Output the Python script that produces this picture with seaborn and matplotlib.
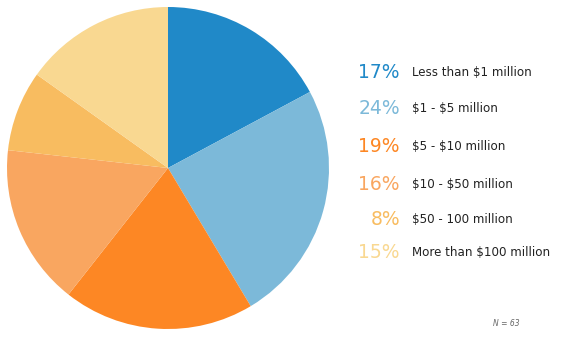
import matplotlib
matplotlib.use("Agg")
import matplotlib.pyplot as plt
import seaborn as sns

# data
labels = ["Less than $1 million", "$1 - $5 million", "$5 - $10 million",
          "$10 - $50 million", "$50 - 100 million", "More than $100 million"]
percents = [17, 24, 19, 16, 8, 15]
colors = ["#2089c8", "#7cb9d9", "#fd8724", "#f9a660", "#f8bc60", "#f9d891"]
n_text = "N = 63"

sns.set_style("white")
plt.rcParams['font.family'] = ['DejaVu Sans']
plt.rcParams['text.parse_math'] = False

fig = plt.figure(figsize=(5.83, 3.51), dpi=100)
ax = fig.add_axes([7 / 583, 22 / 351, 322 / 583, 322 / 351])
ax.pie(percents, colors=colors, startangle=90, counterclock=False,
       wedgeprops={'linewidth': 0})
ax.set_aspect('equal')
ax.set_xlim(-1, 1)
ax.set_ylim(-1, 1)
ax.axis('off')

# legend as text rows
row_y = [72, 108, 146, 184, 220, 253]
for pct, lab, col, y in zip(percents, labels, colors, row_y):
    yf = 1 - y / 351
    fig.text(400 / 583, yf, f"{pct}%", color=col, fontsize=13.5,
             ha='right', va='center')
    fig.text(412 / 583, yf, lab, color='#222222', fontsize=8.6,
             ha='left', va='center')

fig.text(506 / 583, 1 - 324 / 351, n_text, color='#666666', fontsize=5.5,
         style='italic', ha='center', va='center')

fig.savefig("out.png", dpi=100)
